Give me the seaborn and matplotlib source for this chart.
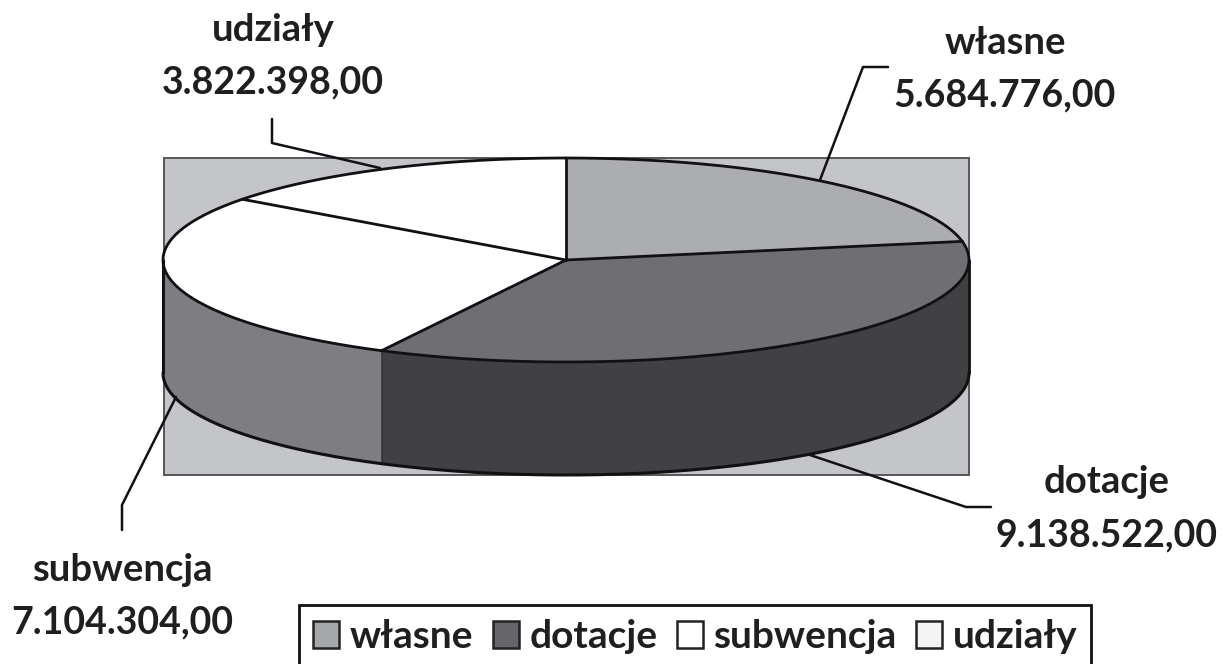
import numpy as np
import pandas as pd
import matplotlib
matplotlib.use("Agg")
import matplotlib.pyplot as plt
from matplotlib.patches import Polygon, Rectangle, Patch
import seaborn as sns

categories = ["własne", "dotacje", "subwencja", "udziały"]
values = [5684776.00, 9138522.00, 7104304.00, 3822398.00]
value_labels = ["5.684.776,00", "9.138.522,00", "7.104.304,00", "3.822.398,00"]
top_colors = ["#acadb0", "#6f6f73", "#ffffff", "#ffffff"]
side_colors = ["#77777a", "#414144", "#7d7d82", "#dddddd"]
legend_colors = ["#a6a7aa", "#66666a", "#ffffff", "#f4f4f4"]
plot_bg = "#c3c5c9"
INK = "#111114"

sns.set_theme(style="white")
plt.rcParams["font.family"] = ["Lato", "DejaVu Sans"]
plt.rcParams["font.weight"] = "bold"

df = pd.DataFrame({"category": categories, "value": values})
df["end"] = df["value"].cumsum() / df["value"].sum() * 2 * np.pi
df["start"] = df["end"].shift(fill_value=0.0)

fig = plt.figure(figsize=(12.3, 6.64), dpi=100)
ax = fig.add_axes([0, 0, 1, 1])
ax.set_xlim(0, 1230)
ax.set_ylim(664, 0)
ax.axis("off")

CX, CY, RX, RY, DEPTH = 566, 260, 403, 102, 113


def arc(t0, t1, n=200, dy=0):
    t = np.linspace(t0, t1, n)
    return np.column_stack([CX + RX * np.sin(t), CY - RY * np.cos(t) + dy])


ax.add_patch(Rectangle((164, 158), 805, 317, fc=plot_bg, ec="#55555a", lw=1.4, zorder=1))

# front wall of the cylinder (only the part facing the viewer)
for row, col in zip(df.itertuples(), side_colors):
    t0, t1 = max(row.start, np.pi / 2), min(row.end, 3 * np.pi / 2)
    if t1 <= t0:
        continue
    upper = arc(t0, t1)
    lower = arc(t0, t1, dy=DEPTH)
    ax.add_patch(Polygon(np.vstack([upper, lower[::-1]]), closed=True,
                         fc=col, ec="none", zorder=2))
    ax.plot(lower[:, 0], lower[:, 1], color=INK, lw=2.2, zorder=4)
    ax.plot([upper[-1, 0], lower[-1, 0]], [upper[-1, 1], lower[-1, 1]],
            color="#333336", lw=1.2, zorder=4)
ax.plot([CX - RX, CX - RX], [CY, CY + DEPTH], color=INK, lw=2.2, zorder=4)
ax.plot([CX + RX, CX + RX], [CY, CY + DEPTH], color=INK, lw=2.0, zorder=4)

# top face
for row, col in zip(df.itertuples(), top_colors):
    rim = arc(row.start, row.end)
    ax.add_patch(Polygon(np.vstack([[CX, CY], rim]), closed=True,
                         fc=col, ec="none", zorder=3))
    ax.plot(rim[:, 0], rim[:, 1], color=INK, lw=2.0, zorder=5)
for row in df.itertuples():
    p = arc(row.start, row.start, n=1)[0]
    ax.plot([CX, p[0]], [CY, p[1]], color=INK, lw=2.0, zorder=5)

# leader lines
leader_x = [[820, 863, 888], [810, 966, 991], [176, 122, 122], [380, 272, 272]]
leader_y = [[180, 67, 67], [455, 507, 507], [397, 505, 530], [168, 143, 119]]
for xs, ys in zip(leader_x, leader_y):
    ax.plot(xs, ys, color=INK, lw=1.8, zorder=6)

# data labels
label_x = [1005, 1107, 122, 273]
label_y = [[43, 95], [482, 535], [570, 622], [30, 82]]
for name, txt, x, ys in zip(categories, value_labels, label_x, label_y):
    ax.text(x, ys[0], name, ha="center", va="center", fontsize=27.5,
            fontweight="bold", color="#1f1f22", zorder=7)
    ax.text(x, ys[1], txt, ha="center", va="center", fontsize=27,
            fontweight="bold", color="#1f1f22", zorder=7)

# legend
handles = [Patch(fc=c, ec="#222225", lw=1.8) for c in legend_colors]
leg = ax.legend(handles, categories, ncol=4, loc="lower left",
                bbox_to_anchor=(299 / 1230, -4 / 664), bbox_transform=ax.transAxes,
                frameon=True, fancybox=False, framealpha=1,
                edgecolor=INK, borderpad=0.36, borderaxespad=0, handlelength=0.67,
                handleheight=0.72, handletextpad=0.28, columnspacing=0.49,
                prop={"family": "Lato", "weight": "bold", "size": 28})
leg.get_frame().set_linewidth(2.0)
for t in leg.get_texts():
    t.set_color("#1f1f22")

fig.savefig("out.png", dpi=100, facecolor="white")
